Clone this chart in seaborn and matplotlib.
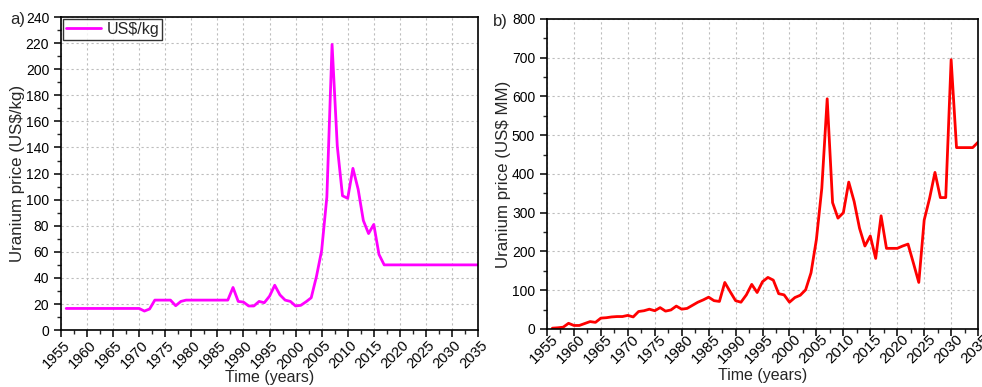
import matplotlib
matplotlib.use("Agg")
import matplotlib.pyplot as plt
from matplotlib.ticker import MultipleLocator
from matplotlib.transforms import ScaledTranslation
import seaborn as sns
import pandas as pd

# ---- data ----
years_a = [1956, 1970, 1971, 1972, 1973, 1976, 1977, 1978, 1979, 1987,
           1988, 1989, 1990, 1991, 1992, 1993, 1994, 1995, 1996, 1997,
           1998, 1999, 2000, 2001, 2002, 2003, 2004, 2005, 2006, 2007,
           2008, 2009, 2010, 2011, 2012, 2013, 2014, 2015, 2016, 2017, 2035]
price_kg = [16.6, 16.6, 14.6, 16.2, 23, 23, 18.7, 22, 23, 23,
            32.7, 22, 21.5, 18.5, 18.5, 22, 21, 26, 34.4, 27,
            23, 22, 18.5, 19, 21.7, 24.8, 41, 61, 102, 219,
            141, 103, 101, 124, 108, 84, 74, 81, 58, 50, 50]

years_b = list(range(1956, 2036))
price_mm = [2, 3, 4.5, 14.6, 9, 9, 14, 19, 17, 28,
            29, 31, 32, 32, 35, 31, 45, 47, 51, 47,
            55, 46, 49, 59, 51, 53, 61, 69, 75, 82,
            73, 71, 120, 96, 73, 69, 88, 115, 94, 122,
            133, 126, 91, 88, 69, 81, 87, 101, 145, 231,
            363, 594, 326, 286, 300, 379, 329, 260, 214, 240,
            182, 292, 208, 208, 208, 214, 219, 170, 120, 281,
            337, 404, 339, 339, 695, 468, 468, 468, 468, 482]

df_a = pd.DataFrame({"year": years_a, "price": price_kg})
df_b = pd.DataFrame({"year": years_b, "price": price_mm})

sns.set_style("ticks")
plt.rcParams["font.family"] = ["Liberation Sans", "DejaVu Sans"]
plt.rcParams["axes.edgecolor"] = "black"

fig = plt.figure(figsize=(9.82, 3.87), dpi=100)
ax1 = fig.add_axes([0.0621, 0.147, 0.4247, 0.809])
ax2 = fig.add_axes([0.557, 0.150, 0.439, 0.801])

sns.lineplot(data=df_a, x="year", y="price", ax=ax1, color="#FF00FF",
             linewidth=2.0, label="US$/kg")
sns.lineplot(data=df_b, x="year", y="price", ax=ax2, color="#FF0000",
             linewidth=2.0, legend=False)

def style(ax, ymax, ymajor, yminor, ylabel, ylpad, xfs, dx, dy, xlpad):
    ax.set_xlim(1955, 2035)
    ax.set_ylim(0, ymax)
    ax.xaxis.set_major_locator(MultipleLocator(5))
    ax.xaxis.set_minor_locator(MultipleLocator(2.5))
    ax.yaxis.set_major_locator(MultipleLocator(ymajor))
    ax.yaxis.set_minor_locator(MultipleLocator(yminor))
    ax.grid(True, which="major", color="#bdbdbd", linestyle=(0, (2, 2.5)),
            linewidth=0.8)
    ax.set_axisbelow(True)
    for s in ax.spines.values():
        s.set_visible(True)
        s.set_color("black")
        s.set_linewidth(1.2)
    ax.tick_params(which="major", direction="out", length=5, width=1.1,
                   labelsize=10, colors="black", top=False, right=False)
    ax.tick_params(axis="x", which="major", pad=1, labelsize=xfs)
    ax.tick_params(which="minor", direction="out", length=3, width=1.0,
                   top=False, right=False)
    ax.set_xlabel("Time (years)", fontsize=11.5, labelpad=xlpad)
    ax.set_ylabel(ylabel, fontsize=12.2, labelpad=ylpad)
    off = ScaledTranslation(dx / 100.0, -dy / 100.0, fig.dpi_scale_trans)
    for t in ax.xaxis.get_major_ticks():
        lab = t.label1
        lab.set_rotation(45)
        lab.set_ha("right")
        lab.set_va("center")
        lab.set_rotation_mode("anchor")
        lab.set_transform(lab.get_transform() + off)

style(ax1, 240, 20, 10, "Uranium price (US$/kg)", 0.5, 10.5, 7, 5, -1.5)
style(ax2, 800, 100, 50, "Uranium price (US$ MM)", 0.5, 11, 9, 0, 1)

leg = ax1.legend(loc="upper left", bbox_to_anchor=(0.0, 1.0),
                 borderaxespad=0.1, frameon=True, fancybox=False,
                 fontsize=11.5, handlelength=2.2, borderpad=0.2,
                 handletextpad=0.35)
leg.get_frame().set_edgecolor("black")
leg.get_frame().set_linewidth(1.0)

fig.text(0.010, 0.950, "a)", fontsize=12, va="center", ha="left")
fig.text(0.502, 0.945, "b)", fontsize=12, va="center", ha="left")

fig.savefig("out.png", dpi=100)
